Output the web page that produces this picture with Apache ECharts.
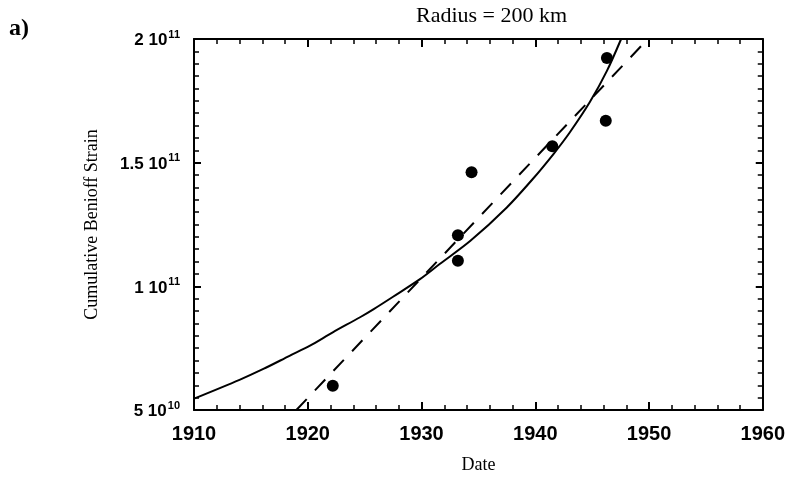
<!DOCTYPE html>
<html>
<head>
<meta charset="utf-8">
<script src="https://cdn.jsdelivr.net/npm/echarts@6/dist/echarts.min.js"></script>
<style>
  html, body { margin: 0; padding: 0; background: #fff; }
</style>
</head>
<body>
<div id="chart" style="width: 788px; height: 479px;"></div>
<script>
// observed events: [year, cumulative Benioff strain]
const obsYears = [1922.2, 1933.2, 1933.2, 1934.4, 1941.5, 1946.2, 1946.3];
const obsStrain = [5.98e10, 1.207e11, 1.103e11, 1.461e11, 1.566e11, 1.669e11, 1.923e11];

// power-law fit (solid curve)
const fitYears = [1909.9, 1914.0, 1916.1, 1918.4, 1920.2, 1922.2, 1924.6, 1925.8, 1927.5,
                  1929.9, 1931.6, 1934.3, 1937.5, 1939.8, 1941.6, 1943.0, 1944.8, 1946.3, 1947.55];
const fitStrain = [5.44e10, 6.22e10, 6.66e10, 7.19e10, 7.60e10, 8.14e10, 8.75e10, 9.08e10, 9.58e10,
                   1.030e11, 1.090e11, 1.184e11, 1.319e11, 1.435e11, 1.535e11, 1.620e11, 1.745e11, 1.871e11, 2.0e11];

// linear fit (dashed line)
const linYears = [1919.0, 1949.9];
const linStrain = [5.0e10, 2.0e11];

const yTicks = { 5e10: ['5 10', '10'], 1e11: ['1 10', '11'], 1.5e11: ['1.5 10', '11'], 2e11: ['2 10', '11'] };

const zip = (a, b) => a.map((v, i) => [v, b[i]]);

const chart = echarts.init(document.getElementById('chart'));

const sansBold = { fontFamily: 'Liberation Sans', fontWeight: 'bold', color: '#000' };
const serif = { fontFamily: 'Liberation Serif', color: '#000' };

const option = {
  backgroundColor: '#fff',
  animation: false,
  title: {
    text: 'Radius = 200 km',
    left: 411,
    top: 0,
    textStyle: Object.assign({ fontSize: 22, fontWeight: 'normal' }, serif)
  },
  graphic: [
    {
      type: 'text', left: 9, top: 17,
      style: { text: 'a)', font: 'bold 24px "Liberation Serif"', fill: '#000' }
    }
  ],
  grid: { left: 194, right: 25, top: 39, bottom: 68 },
  xAxis: [
    {
      type: 'value', min: 1910, max: 1960, interval: 10,
      name: 'Date', nameLocation: 'middle', nameGap: 46,
      nameTextStyle: Object.assign({ fontSize: 18 }, serif),
      axisLine: { lineStyle: { color: '#000', width: 2 } },
      axisTick: { inside: true, length: 8, lineStyle: { color: '#000', width: 2 } },
      minorTick: { show: true, splitNumber: 5, length: 5, lineStyle: { color: '#000', width: 1.5 } },
      splitLine: { show: false },
      axisLabel: Object.assign({ fontSize: 20, margin: 14, formatter: v => String(v) }, sansBold)
    },
    {
      type: 'value', min: 1910, max: 1960, interval: 10, position: 'top',
      axisLine: { lineStyle: { color: '#000', width: 2 } },
      axisTick: { inside: true, length: 8, lineStyle: { color: '#000', width: 2 } },
      minorTick: { show: true, splitNumber: 5, length: 5, lineStyle: { color: '#000', width: 1.5 } },
      splitLine: { show: false },
      axisLabel: { show: false }
    }
  ],
  yAxis: [
    {
      type: 'value', min: 5e10, max: 2e11, interval: 5e10,
      name: 'Cumulative Benioff Strain', nameLocation: 'middle', nameGap: 93,
      nameTextStyle: Object.assign({ fontSize: 18 }, serif),
      axisLine: { show: true, lineStyle: { color: '#000', width: 2 } },
      axisTick: { show: true, inside: true, length: 7, lineStyle: { color: '#000', width: 2 } },
      minorTick: { show: true, splitNumber: 10, length: 5, lineStyle: { color: '#000', width: 1.5 } },
      splitLine: { show: false },
      axisLabel: {
        margin: 14,
        formatter: v => {
          const t = yTicks[v];
          return t ? '{b|' + t[0] + '}{s|' + t[1] + '}' : '';
        },
        rich: {
          b: Object.assign({ fontSize: 17, verticalAlign: 'bottom', lineHeight: 20 }, sansBold),
          s: Object.assign({ fontSize: 11, verticalAlign: 'bottom', lineHeight: 11, padding: [0, 0, 9, 1] }, sansBold)
        }
      }
    },
    {
      type: 'value', min: 5e10, max: 2e11, interval: 5e10, position: 'right',
      axisLine: { show: true, lineStyle: { color: '#000', width: 2 } },
      axisTick: { show: true, inside: true, length: 7, lineStyle: { color: '#000', width: 2 } },
      minorTick: { show: true, splitNumber: 10, length: 5, lineStyle: { color: '#000', width: 1.5 } },
      splitLine: { show: false },
      axisLabel: { show: false }
    }
  ],
  series: [
    {
      name: 'fit', type: 'line', smooth: 0.3, showSymbol: false, clip: true,
      lineStyle: { color: '#000', width: 2 },
      data: zip(fitYears, fitStrain)
    },
    {
      name: 'linear', type: 'line', showSymbol: false, clip: true,
      lineStyle: { color: '#000', width: 2, type: [15, 12] },
      data: zip(linYears, linStrain)
    },
    {
      name: 'events', type: 'scatter', symbol: 'circle', symbolSize: 12,
      itemStyle: { color: '#000', opacity: 1 },
      data: zip(obsYears, obsStrain)
    }
  ]
};

chart.setOption(option);
</script>
</body>
</html>
